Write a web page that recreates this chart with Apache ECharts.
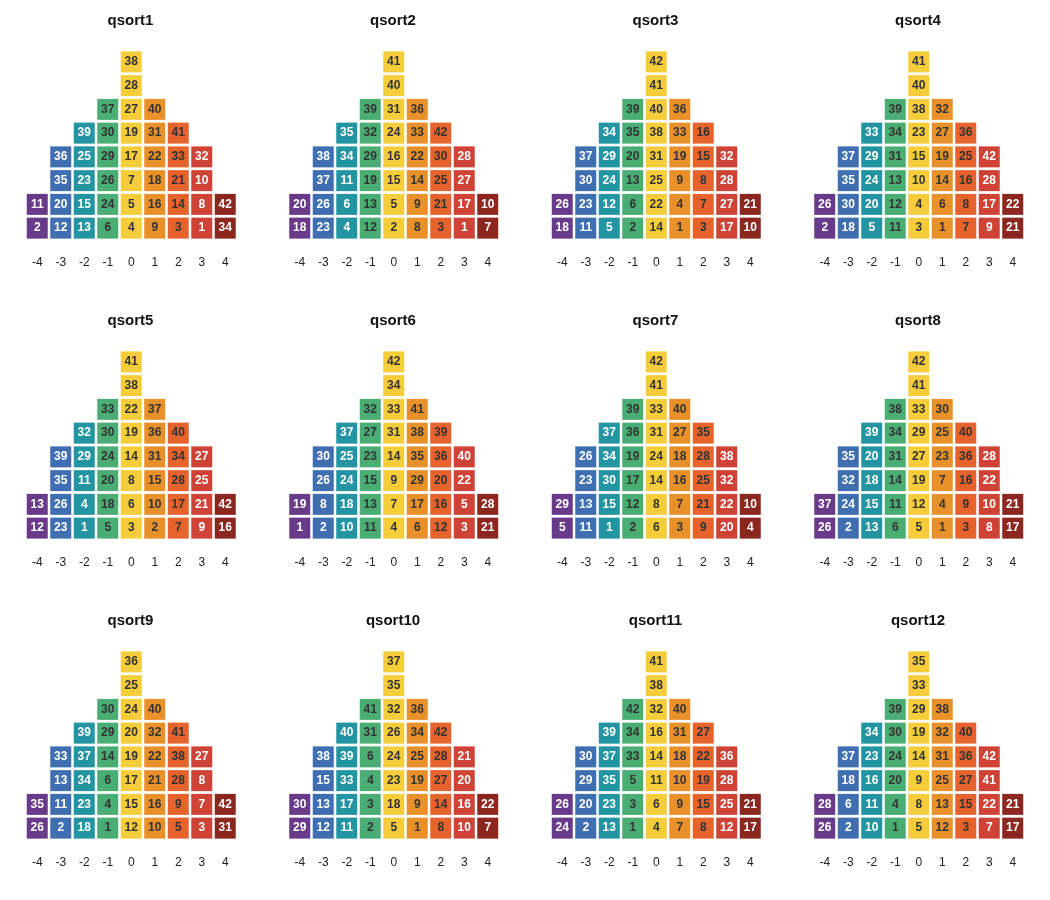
<!DOCTYPE html>
<html>
<head>
<meta charset="utf-8">
<script src="https://cdn.jsdelivr.net/npm/echarts@6/dist/echarts.min.js"></script>
<style>
  html, body { margin: 0; padding: 0; background: #fff; }
  #main { width: 1050px; height: 900px; }
</style>
</head>
<body>
<div id="main"></div>
<script>
// column scores of the Q-sort grid
const scores = ['-4', '-3', '-2', '-1', '0', '1', '2', '3', '4'];
const rowSlots = ['1', '2', '3', '4', '5', '6', '7', '8'];
const sortNames = ['qsort1', 'qsort2', 'qsort3', 'qsort4', 'qsort5', 'qsort6',
  'qsort7', 'qsort8', 'qsort9', 'qsort10', 'qsort11', 'qsort12'];

// statement numbers per column, bottom to top
const qsort1 = [[2, 11], [12, 20, 35, 36], [13, 15, 23, 25, 39], [6, 24, 26, 29, 30, 37], [4, 5, 7, 17, 19, 27, 28, 38], [9, 16, 18, 22, 31, 40], [3, 14, 21, 33, 41], [1, 8, 10, 32], [34, 42]];
const qsort2 = [[18, 20], [23, 26, 37, 38], [4, 6, 11, 34, 35], [12, 13, 19, 29, 32, 39], [2, 5, 15, 16, 24, 31, 40, 41], [8, 9, 14, 22, 33, 36], [3, 21, 25, 30, 42], [1, 17, 27, 28], [7, 10]];
const qsort3 = [[18, 26], [11, 23, 30, 37], [5, 12, 24, 29, 34], [2, 6, 13, 20, 35, 39], [14, 22, 25, 31, 38, 40, 41, 42], [1, 4, 9, 19, 33, 36], [3, 7, 8, 15, 16], [17, 27, 28, 32], [10, 21]];
const qsort4 = [[2, 26], [18, 30, 35, 37], [5, 20, 24, 29, 33], [11, 12, 13, 31, 34, 39], [3, 4, 10, 15, 23, 38, 40, 41], [1, 6, 14, 19, 27, 32], [7, 8, 16, 25, 36], [9, 17, 28, 42], [21, 22]];
const qsort5 = [[12, 13], [23, 26, 35, 39], [1, 4, 11, 29, 32], [5, 18, 20, 24, 30, 33], [3, 6, 8, 14, 19, 22, 38, 41], [2, 10, 15, 31, 36, 37], [7, 17, 28, 34, 40], [9, 21, 25, 27], [16, 42]];
const qsort6 = [[1, 19], [2, 8, 26, 30], [10, 18, 24, 25, 37], [11, 13, 15, 23, 27, 32], [4, 7, 9, 14, 31, 33, 34, 42], [6, 17, 29, 35, 38, 41], [12, 16, 20, 36, 39], [3, 5, 22, 40], [21, 28]];
const qsort7 = [[5, 29], [11, 13, 23, 26], [1, 15, 30, 34, 37], [2, 12, 17, 19, 36, 39], [6, 8, 14, 24, 31, 33, 41, 42], [3, 7, 16, 18, 27, 40], [9, 21, 25, 28, 35], [20, 22, 32, 38], [4, 10]];
const qsort8 = [[26, 37], [2, 24, 32, 35], [13, 15, 18, 20, 39], [6, 11, 14, 31, 34, 38], [5, 12, 19, 27, 29, 33, 41, 42], [1, 4, 7, 23, 25, 30], [3, 9, 16, 36, 40], [8, 10, 22, 28], [17, 21]];
const qsort9 = [[26, 35], [2, 11, 13, 33], [18, 23, 34, 37, 39], [1, 4, 6, 14, 29, 30], [12, 15, 17, 19, 20, 24, 25, 36], [10, 16, 21, 22, 32, 40], [5, 9, 28, 38, 41], [3, 7, 8, 27], [31, 42]];
const qsort10 = [[29, 30], [12, 13, 15, 38], [11, 17, 33, 39, 40], [2, 3, 4, 6, 31, 41], [5, 18, 23, 24, 26, 32, 35, 37], [1, 9, 19, 25, 34, 36], [8, 14, 27, 28, 42], [10, 16, 20, 21], [7, 22]];
const qsort11 = [[24, 26], [2, 20, 29, 30], [13, 23, 35, 37, 39], [1, 3, 5, 33, 34, 42], [4, 6, 11, 14, 16, 32, 38, 41], [7, 9, 10, 18, 31, 40], [8, 15, 19, 22, 27], [12, 25, 28, 36], [17, 21]];
const qsort12 = [[26, 28], [2, 6, 18, 37], [10, 11, 16, 23, 34], [1, 4, 20, 24, 30, 39], [5, 8, 9, 14, 19, 29, 33, 35], [12, 13, 25, 31, 32, 38], [3, 15, 27, 36, 40], [7, 22, 41, 42], [17, 21]];

const sorts = [qsort1, qsort2, qsort3, qsort4, qsort5, qsort6,
  qsort7, qsort8, qsort9, qsort10, qsort11, qsort12];

const colColors = ['#6a3a8a', '#3f6fb1', '#2394a1', '#4aad73', '#f5cd3b',
  '#e8912b', '#e6632e', '#cf4337', '#8c2720'];
const colText = ['#fff', '#fff', '#fff', '#333', '#333', '#333', '#333', '#fff', '#fff'];

const myChart = echarts.init(document.getElementById('main'));

const panelW = 1050 / 4, panelH = 300;
let titles = [], grid = [], xAxis = [], yAxis = [], series = [];

sorts.forEach((cols, k) => {
  const px = (k % 4) * panelW;
  const py = Math.floor(k / 4) * panelH;
  // panel title, centred over the 0 column
  titles.push({
    type: 'text',
    x: px + 130.5,
    y: py + 21,
    silent: true,
    style: {
      text: sortNames[k],
      textAlign: 'center',
      textVerticalAlign: 'middle',
      font: 'bold 15px "Liberation Sans", Arial, sans-serif',
      fill: '#111'
    }
  });
  grid.push({ left: px + 25.5, top: py + 50, width: 211.5, height: 190 });
  xAxis.push({
    type: 'category', gridIndex: k, data: scores,
    axisLine: { show: false }, axisTick: { show: false }, splitLine: { show: false },
    axisLabel: { margin: 17, fontSize: 12, color: '#222', fontFamily: 'Liberation Sans' }
  });
  yAxis.push({
    type: 'category', gridIndex: k, data: rowSlots, show: false
  });
  let points = [];
  cols.forEach((vals, c) => {
    vals.forEach((v, r) => {
      points.push({
        value: [c, r, v],
        itemStyle: { color: colColors[c], opacity: 1 },
        label: { color: colText[c] }
      });
    });
  });
  series.push({
    type: 'scatter',
    xAxisIndex: k, yAxisIndex: k,
    symbol: 'rect',
    symbolSize: [21, 21],
    itemStyle: { opacity: 1 },
    data: points,
    silent: true,
    label: {
      show: true, position: 'inside',
      formatter: (p) => p.value[2],
      fontSize: 12, fontWeight: 'bold', fontFamily: 'Liberation Sans'
    }
  });
});

myChart.setOption({
  animation: false,
  graphic: titles,
  grid: grid,
  xAxis: xAxis,
  yAxis: yAxis,
  series: series
});
</script>
</body>
</html>
